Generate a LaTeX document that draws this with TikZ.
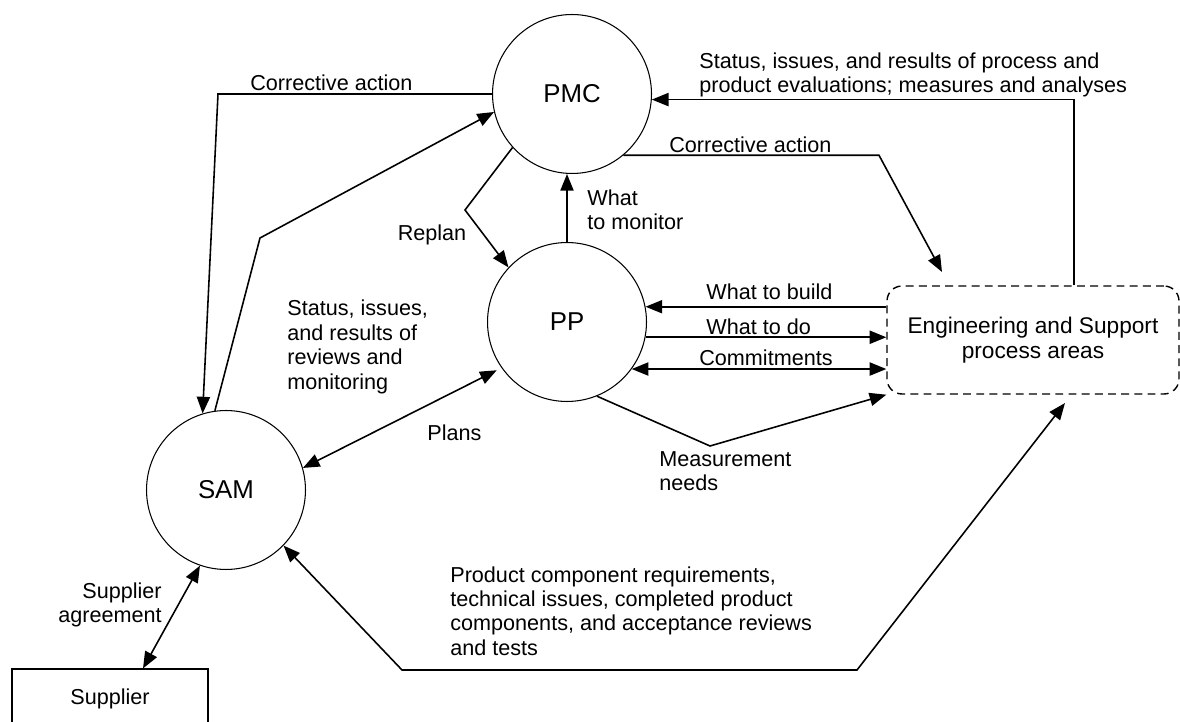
\documentclass[tikz,border=0pt]{standalone}
\usepackage{fontspec}
\setmainfont{Liberation Sans}
\usetikzlibrary{arrows.meta}

\begin{document}
\begin{tikzpicture}[
  x=0.02cm, y=-0.02cm,
  font=\fontsize{12.3}{13.9}\selectfont,
  pa/.style={circle, draw, line width=0.6pt, minimum size=3.18cm, inner sep=0pt, font=\fontsize{14.7}{16}\selectfont},
  arr/.style={-{Triangle[length=9.5pt,width=7.5pt]}, line width=0.9pt},
  dbl/.style={{Triangle[length=9.5pt,width=7.5pt]}-{Triangle[length=9.5pt,width=7.5pt]}, line width=0.9pt},
  lbl/.style={inner sep=0pt, align=left, anchor=west}
]
\useasboundingbox (0,0) rectangle (1180,722);

\node[pa] (pmc) at (572,94) {PMC};
\node[pa] (pp) at (567,322) {PP};
\node[pa] (sam) at (226,490) {SAM};
\node[draw, line width=0.6pt, minimum width=3.92cm, minimum height=1.2cm] (sup) at (110,699) {Supplier};
\node[draw, dashed, dash pattern=on 4.5pt off 3pt, line width=0.8pt, rounded corners=0.3cm, minimum width=5.84cm, minimum height=2.16cm, align=center, font=\fontsize{12.9}{13.9}\selectfont] (esp) at (1033,340) {Engineering and Support\\process areas};

\coordinate (caL) at (218,93);
\coordinate (smb) at (260,238);
\coordinate (rpb) at (465,210);
\coordinate (caR) at (879,157);
\coordinate (caTip) at (942,272);
\coordinate (msb) at (710,446);
\coordinate (pcb1) at (402,670);
\coordinate (pcb2) at (857,670);
\coordinate (pcTip) at (1065,403);

\draw[arr] (pmc.west) -- (pmc.west -| caL) -- (sam.107);
\draw[arr] (sam.98) -- (smb) -- (pmc.193);
\draw[arr] (pmc.222) -- (rpb) -- (pp.137);
\draw[arr] (pp.north) -- (pp.north |- pmc.south);
\draw[arr] ([xshift=0.82cm]esp.north) |- (pmc.-4);
\draw[arr] (pmc.-50) -- (pmc.-50 -| caR) -- (caTip);
\draw[arr] (pp.11 -| esp.west) -- (pp.11);
\draw[arr] (pp.-11) -- (pp.-11 -| esp.west);
\draw[dbl] (pp.-36) -- (pp.-36 -| esp.west);
\draw[arr] (pp.-68) -- (msb) -- (esp.south west);
\draw[dbl, shorten >=3pt] (sam.16) -- (pp.215);
\draw[dbl] ([xshift=0.66cm]sup.north) -- (sam.251);
\draw[dbl] (sam.-44) -- (pcb1) -- (pcb2) -- (pcTip);

\node[lbl] (lCaL) at (250,83) {Corrective action};
\node[lbl] (lStat) at (699,75) {Status, issues, and results of process and\\product evaluations; measures and analyses};
\node[lbl] (lCaR) at (669,145) {Corrective action};
\node[lbl] (lMon) at (587,210) {What\\to monitor};
\node[lbl, anchor=center] (lRep) at (432,235) {Replan};
\node[lbl] (lRev) at (287,347) {Status, issues,\\and results of\\reviews and\\monitoring};
\node[lbl] (lPlans) at (427,433) {Plans};
\node[lbl] (lBuild) at (706,292) {What to build};
\node[lbl] (lDo) at (706,327) {What to do};
\node[lbl] (lCom) at (699,358) {Commitments};
\node[lbl] (lMeas) at (659,471) {Measurement\\needs};
\node[lbl] (lProd) at (450,611) {Product component requirements,\\technical issues, completed product\\components, and acceptance reviews\\and tests};
\node[lbl, anchor=east, align=right] (lAgr) at (162,605) {Supplier\\agreement};
\end{tikzpicture}
\end{document}
